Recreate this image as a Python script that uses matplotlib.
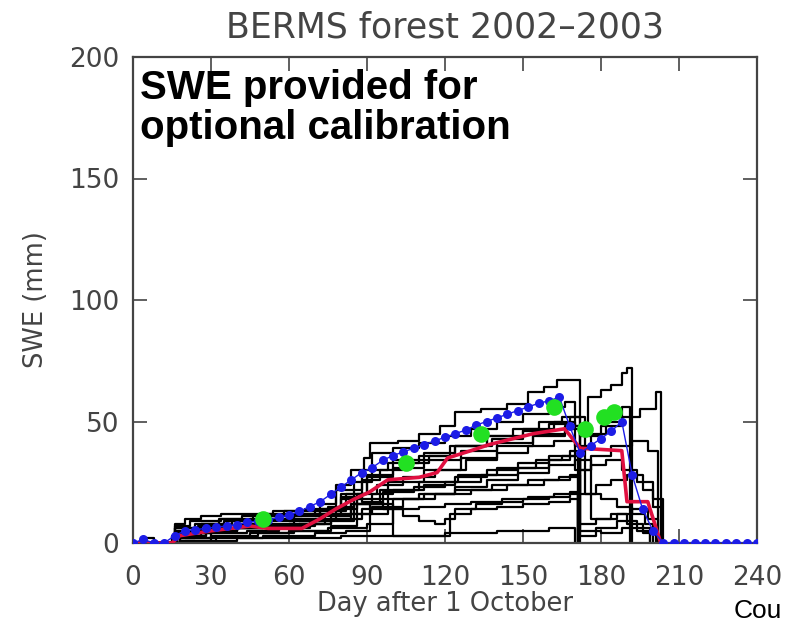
import matplotlib.pyplot as plt

# model run, blue dots every 4 days
blue_day = list(range(0, 241, 4))
blue_swe = [0, 1.5, 0, 0, 3, 5, 5.5, 6, 6.5, 7, 7.5, 8.5, 9, 9.5, 10.5, 11.5,
            13, 15, 17, 20, 23, 26, 29, 31, 34, 36, 37.5, 39, 40.5, 42, 43.5,
            45, 46.5, 48.5, 50, 51.5, 53, 54.5, 56, 57.5, 58.5, 60, 48, 37, 40,
            43, 46, 50, 28, 14, 5, 0, 0, 0, 0, 0, 0, 0, 0, 0, 0]

# mean of the survey lines (red)
red_day = [0, 15, 18, 30, 45, 52, 65, 72, 78, 85, 91, 98, 110, 117, 121, 130,
           137, 154, 166, 172, 188, 190, 198, 203]
red_swe = [0, 0, 3, 5, 7, 6, 6, 10, 14, 18, 21, 26, 27, 29, 35, 38,
           40.5, 45, 47, 39, 38, 17, 17, 0]

# green observations
obs_day = [50, 105, 134, 162, 174, 181, 185]
obs_swe = [10, 33, 45, 56, 47, 52, 54]

# individual survey lines (black steps)
d1 = [0, 16, 24, 33, 42, 50, 58, 66, 72, 78, 84, 89, 91, 102, 110, 118, 124, 134, 144, 152, 158, 163, 172]
s1 = [0, 6, 8, 10, 11, 12, 13, 14, 16, 24, 30, 35, 41, 42, 45, 48, 54, 55, 57, 62, 64, 67, 0]
d2 = [0, 17, 25, 35, 45, 55, 65, 75, 85, 92, 100, 110, 120, 130, 140, 150, 160, 166, 170, 175, 180, 184, 188, 190, 192]
s2 = [0, 5, 7, 9, 10, 11, 12, 15, 25, 37, 39, 41, 44, 47, 50, 53, 56, 58, 48, 60, 63, 65, 70, 72, 0]
d3 = [0, 16, 28, 40, 52, 62, 72, 80, 88, 95, 104, 114, 124, 136, 146, 156, 165, 172, 180, 188, 195, 201, 203]
s3 = [0, 4, 6, 8, 9, 10, 12, 18, 26, 30, 33, 36, 40, 44, 47, 50, 52, 44, 48, 52, 55, 62, 0]
d4 = [0, 15, 26, 38, 50, 60, 70, 78, 86, 94, 104, 116, 128, 140, 152, 162, 170, 176, 184, 192, 198, 202]
s4 = [0, 3, 5, 6, 7, 8, 10, 14, 20, 24, 27, 30, 34, 37, 40, 42, 30, 36, 40, 42, 38, 0]
d5 = [0, 18, 30, 44, 56, 68, 76, 84, 92, 100, 112, 124, 136, 148, 160, 168, 171]
s5 = [0, 2, 4, 5, 6, 8, 12, 16, 20, 22, 24, 27, 30, 33, 36, 38, 0]
d6 = [0, 17, 28, 40, 52, 62, 72, 80, 88, 96, 104, 110, 116, 120, 124, 132, 142, 152, 162, 168, 171]
s6 = [0, 3, 5, 7, 8, 9, 14, 19, 17, 14, 11, 9, 8, 10, 14, 16, 18, 19, 20, 21, 0]
d7 = [0, 18, 30, 45, 60, 75, 90, 100, 110, 120, 130, 140, 150, 160, 168, 171]
s7 = [0, 2, 3, 4, 5, 6, 8, 14, 15, 16, 17, 17, 18, 19, 20, 0]
d8 = [0, 18, 30, 50, 70, 82, 91, 100, 118, 122, 130, 140, 150, 160, 168, 171]
s8 = [0, 1, 2, 3, 4, 5, 16, 3, 3, 12, 14, 15, 16, 17, 18, 0]
d9 = [0, 4, 8, 20, 40, 60, 80, 100, 120, 140, 160, 170]
s9 = [0, 2, 0, 1, 2, 2, 3, 3, 4, 5, 6, 0]
d10 = [0, 17, 30, 50, 70, 85, 95, 110, 125, 140, 155, 165, 172, 178, 184, 190, 196, 200, 204]
s10 = [0, 4, 6, 7, 9, 16, 22, 25, 28, 31, 34, 36, 20, 24, 26, 28, 22, 18, 0]
d11 = [0, 16, 26, 36, 48, 60, 72, 82, 90, 100, 112, 126, 140, 154, 166, 172, 178, 186, 192, 198, 202]
s11 = [0, 5, 8, 9, 10, 11, 13, 20, 27, 31, 34, 38, 41, 45, 48, 8, 10, 12, 14, 10, 0]
d12 = [0, 17, 28, 40, 52, 64, 74, 84, 96, 108, 120, 134, 148, 160, 168, 172, 180, 188, 194, 199]
s12 = [0, 3, 5, 6, 7, 8, 11, 16, 21, 23, 25, 28, 31, 34, 36, 5, 4, 6, 5, 0]
d13 = [0, 16, 22, 34, 46, 58, 70, 78, 88, 98, 110, 122, 136, 150, 162, 170, 176, 182, 188, 191]
s13 = [0, 7, 9, 10, 11, 12, 13, 22, 30, 33, 36, 40, 44, 47, 50, 40, 45, 50, 56, 0]
d14 = [0, 19, 32, 48, 62, 76, 86, 98, 110, 124, 138, 152, 164, 171]
s14 = [0, 1, 3, 4, 5, 7, 12, 18, 20, 22, 24, 26, 27, 0]
d15 = [0, 16, 20, 26, 34, 44, 54, 64, 72, 80, 90, 100, 112, 124, 138, 150, 160, 168, 174, 180, 186, 192, 197, 200]
s15 = [0, 8, 10, 11, 12, 12, 13, 13, 14, 20, 28, 34, 37, 40, 43, 46, 49, 52, 20, 18, 15, 12, 8, 0]
d16 = [0, 18, 24, 32, 40, 50, 60, 68, 76, 84, 92, 104, 116, 130, 144, 158, 168, 172, 178, 186, 194, 199]
s16 = [0, 2, 4, 5, 6, 7, 8, 9, 10, 12, 15, 18, 20, 22, 24, 26, 28, 3, 6, 9, 6, 0]
d17 = [0, 16, 26, 38, 50, 62, 74, 86, 98, 112, 126, 140, 154, 166, 172, 176, 182, 188, 194, 200, 203]
s17 = [0, 6, 8, 9, 10, 11, 12, 18, 25, 30, 35, 40, 44, 47, 30, 32, 34, 30, 25, 15, 0]
d18 = [0, 15, 22, 30, 40, 52, 64, 76, 88, 100, 112, 124, 136, 148, 160, 170, 176, 184, 190, 196, 201]
s18 = [0, 3, 4, 5, 6, 7, 8, 10, 14, 18, 20, 23, 26, 29, 32, 34, 10, 12, 8, 4, 0]

survey = [(d1, s1), (d2, s2), (d3, s3), (d4, s4), (d5, s5), (d6, s6), (d7, s7),
          (d8, s8), (d9, s9), (d10, s10), (d11, s11), (d12, s12), (d13, s13),
          (d14, s14), (d15, s15), (d16, s16), (d17, s17), (d18, s18)]

x_ticks = [0, 30, 60, 90, 120, 150, 180, 210, 240]
y_ticks = [0, 50, 100, 150, 200]

grey = '#444444'
fig = plt.figure(figsize=(7.85, 6.25), dpi=100)
ax = fig.add_axes([0.1694, 0.1312, 0.7949, 0.7776])

for d, s in survey:
    ax.plot(d, s, drawstyle='steps-post', color='black', lw=1.6, zorder=2)

ax.plot(red_day, red_swe, color='#e01040', lw=2.6, zorder=3)
ax.plot(blue_day, blue_swe, color='#1c1ce6', lw=1.0, marker='o', ms=6.5,
        markeredgewidth=0, zorder=4)
ax.plot(obs_day, obs_swe, 'o', color='#22e022', ms=12, markeredgewidth=0, zorder=5)

ax.set_xlim(0, 240)
ax.set_ylim(0, 200)
ax.set_xticks(x_ticks)
ax.set_yticks(y_ticks)
ax.tick_params(direction='in', length=10, width=1.2, color=grey, labelcolor=grey,
               labelsize=19, top=True, right=True)
ax.tick_params(axis='x', pad=16)
ax.tick_params(axis='y', pad=10)
for sp in ax.spines.values():
    sp.set_color(grey)
    sp.set_linewidth(1.6)

ax.set_title('BERMS forest 2002\u20132003', fontsize=25, color=grey, pad=14)
ax.set_xlabel('Day after 1 October', fontsize=18.5, color=grey, labelpad=0)
ax.set_ylabel('SWE (mm)', fontsize=18.5, color=grey, labelpad=14)

ax.text(0.012, 0.975, 'SWE provided for\noptional calibration', transform=ax.transAxes,
        family='Liberation Sans', fontweight='bold', fontsize=29, va='top', ha='left',
        linespacing=1.05, zorder=6)
fig.text(0.935, 0.012, 'Cou', family='Liberation Sans', fontsize=19, color='black')

fig.savefig('out.png', dpi=100)
